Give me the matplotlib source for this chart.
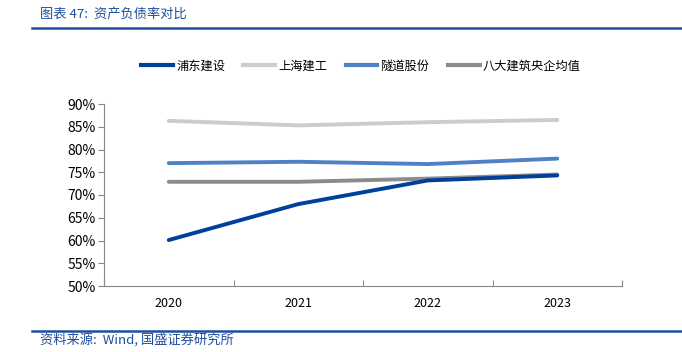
import matplotlib
matplotlib.use('Agg')
import matplotlib.pyplot as plt
from matplotlib.lines import Line2D

plt.rcParams['font.family'] = ['Noto Sans CJK SC', 'DejaVu Sans']

years = ['2020', '2021', '2022', '2023']
pudong = [60.1, 68.0, 73.2, 74.3]
shanghai = [86.3, 85.3, 86.0, 86.5]
suidao = [77.0, 77.3, 76.8, 78.0]
badajz = [72.9, 72.9, 73.6, 74.5]

names = ['浦东建设', '上海建工', '隧道股份', '八大建筑央企均值']
colors = ['#003f9a', '#cccccc', '#4f81c7', '#8c8c8c']
series = [pudong, shanghai, suidao, badajz]

fig = plt.figure(figsize=(6.82, 3.52), dpi=100)
ax = fig.add_axes([104 / 682, 1 - 286 / 352, 518 / 682, 182 / 352])

x = range(len(years))
# draw order: light lines behind
for i in [1, 3, 2, 0]:
    ax.plot(x, series[i], color=colors[i], lw=2.8, solid_capstyle='round', zorder=3 + (i == 0))

ax.set_xlim(-0.5, 3.5)
ax.set_ylim(50, 90)
ax.set_yticks(range(50, 91, 5))
ax.set_yticklabels([f'{v}%' for v in range(50, 91, 5)], fontsize=10)
ax.set_xticks([-0.5, 0.5, 1.5, 2.5, 3.5], minor=False)
ax.set_xticklabels([])
ax.set_xticks(list(x), minor=True)
ax.set_xticklabels(years, minor=True, fontsize=9)
ax.tick_params(axis='x', which='minor', length=0, pad=8)
ax.tick_params(axis='x', which='major', length=4, direction='in', color='#888888')
ax.tick_params(axis='y', length=4, direction='out', color='#888888', pad=2)
for s in ['top', 'right']:
    ax.spines[s].set_visible(False)
for s in ['left', 'bottom']:
    ax.spines[s].set_color('#888888')

handles = [Line2D([0], [0], color=c, lw=3) for c in colors]
fig.legend(handles, names, loc='center', bbox_to_anchor=(361 / 682, 1 - 66 / 352),
           ncol=4, frameon=False, fontsize=8.8, handlelength=2.6, columnspacing=1.5,
           handletextpad=0.25)

# header / footer
fig.add_artist(Line2D([32 / 682, 1], [1 - 28 / 352] * 2, color='#1f4e9c', lw=1.8))
fig.add_artist(Line2D([32 / 682, 1], [1 - 331 / 352] * 2, color='#1f4e9c', lw=1.8))
fig.text(40 / 682, 1 - 14 / 352, '图表 47:  资产负债率对比', color='#1f4e9c',
         fontsize=9.5, va='center', style='italic')
fig.text(40 / 682, 1 - 340 / 352, '资料来源:  Wind, 国盛证券研究所', color='#1f4e9c',
         fontsize=9.5, va='center', style='italic')

fig.savefig('out.png', dpi=100)
